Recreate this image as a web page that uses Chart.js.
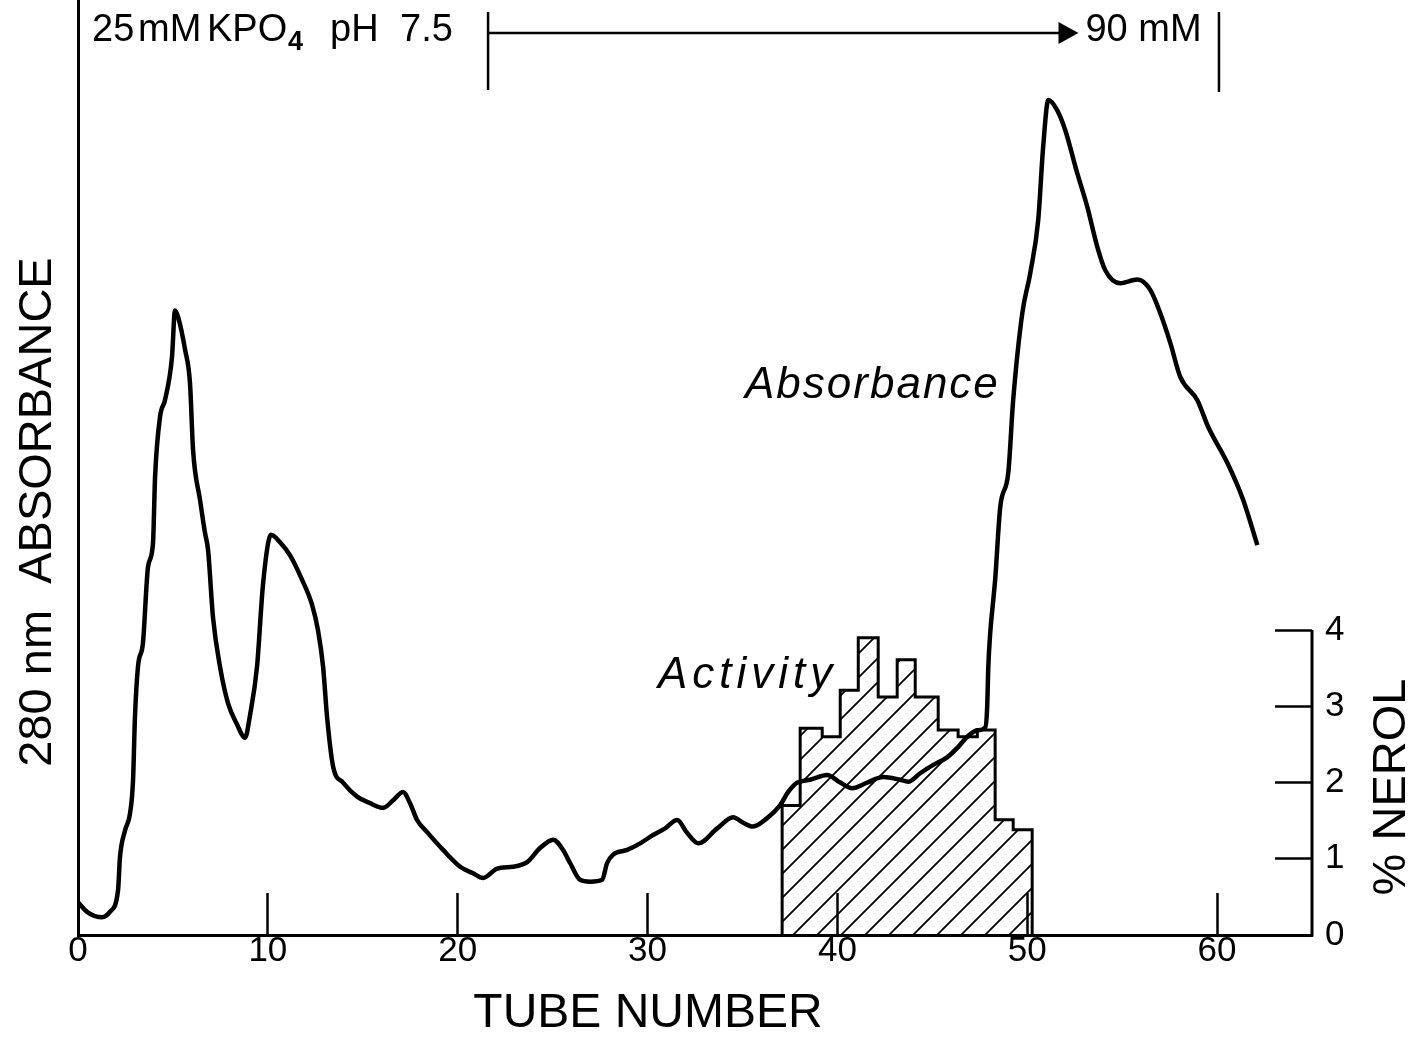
<!DOCTYPE html>
<html>
<head>
<meta charset="utf-8">
<title>280 nm absorbance and activity by tube</title>
<script src="https://cdn.jsdelivr.net/npm/chart.js@4"></script>
<style>
	html, body { margin: 0; padding: 0; background: #fff; }
	canvas { display: block; }
</style>
</head>
<body>
<canvas id="fChart" width="1416" height="1037"></canvas>
<script>
// absorbance trace (tube number, relative A280)
const absTube = [
	0, 0.53, 1.26, 1.69, 2.11, 2.21, 2.48, 2.74, 2.9, 3.0,
	3.16, 3.42, 3.69, 3.95, 4.06, 4.32, 4.58, 4.95, 5.11, 5.27,
	5.64, 5.9, 6.06, 6.43, 6.69, 6.85, 7.11, 7.48, 7.9, 8.38,
	8.8, 9.06, 9.43, 9.75, 10.17, 10.64, 11.17, 11.8, 12.33, 12.64,
	12.91, 13.12, 13.44, 13.96, 14.7, 15.38, 16.07, 16.6, 17.12, 17.49,
	17.86, 18.39, 19.23, 20.13, 20.81, 21.34, 22.08, 22.92, 23.66, 24.34,
	25.03, 25.55, 25.92, 26.45, 26.98, 27.61, 27.87, 28.19, 28.93, 29.61,
	30.29, 30.93, 31.56, 32.09, 32.67, 33.67, 34.51, 35.04, 35.56, 36.3,
	36.99, 37.41, 37.88, 38.57, 39.46, 40.15, 40.78, 41.57, 42.41, 43.31,
	43.73, 44.36, 45.05, 45.78, 46.36, 46.84, 47.37, 47.79, 47.89, 47.95,
	48.05, 48.21, 48.31, 48.58, 49.0, 49.26, 49.74, 50.16, 50.58, 50.84,
	51.11, 51.58, 52.0, 52.63, 53.16, 53.69, 54.11, 54.9, 55.8, 56.48,
	57.01, 57.54, 58.06, 58.96, 59.54, 60.54, 61.38, 62.12,
];
const absValue = [
	0.035, 0.024, 0.019, 0.025, 0.048, 0.083, 0.112, 0.13, 0.166, 0.233,
	0.287, 0.312, 0.394, 0.419, 0.49, 0.554, 0.572, 0.618, 0.668, 0.661,
	0.626, 0.59, 0.519, 0.465, 0.43, 0.412, 0.34, 0.287, 0.248, 0.225,
	0.211, 0.235, 0.287, 0.376, 0.428, 0.42, 0.406, 0.38, 0.353, 0.326,
	0.287, 0.233, 0.18, 0.163, 0.148, 0.141, 0.136, 0.144, 0.153, 0.141,
	0.123, 0.11, 0.091, 0.073, 0.066, 0.061, 0.071, 0.073, 0.078, 0.093,
	0.102, 0.091, 0.077, 0.059, 0.057, 0.059, 0.077, 0.086, 0.091, 0.098,
	0.107, 0.114, 0.123, 0.109, 0.098, 0.114, 0.126, 0.12, 0.116, 0.125,
	0.139, 0.153, 0.163, 0.166, 0.171, 0.163, 0.157, 0.163, 0.169, 0.166,
	0.164, 0.173, 0.182, 0.19, 0.201, 0.212, 0.219, 0.222, 0.244, 0.287,
	0.323, 0.358, 0.38, 0.458, 0.494, 0.572, 0.665, 0.708, 0.765, 0.843,
	0.893, 0.882, 0.861, 0.815, 0.779, 0.736, 0.711, 0.697, 0.701, 0.69,
	0.665, 0.633, 0.597, 0.572, 0.543, 0.505, 0.465, 0.417,
];

// activity histogram: tube edges and % nerol per fraction
const binEdges = [37.09, 38.04, 39.2, 40.15, 41.1, 42.15, 43.15, 44.1, 45.31, 46.36, 47.37, 48.31, 49.26, 50.26];
const nerolValue = [1.7, 2.71, 2.6, 3.21, 3.9, 3.12, 3.61, 3.12, 2.69, 2.6, 2.69, 1.51, 1.38];
const nerolTicks = [0, 1, 2, 3, 4];

// phosphate gradient bracket (tube numbers)
const gradientStart = 21.6;
const gradientArrow = 52.7;
const gradientEnd = 60.1;

const FONT = "'Liberation Sans', Arial, sans-serif";
Chart.defaults.font.family = FONT;
Chart.defaults.color = "#000";

const canvas = document.getElementById("fChart");
const ctx = canvas.getContext("2d");

// diagonal hatch for the activity bars
function makeHatch() {
	const c = document.createElement("canvas");
	c.width = 24;
	c.height = 24;
	const g = c.getContext("2d");
	g.strokeStyle = "#000";
	g.lineWidth = 1.8;
	g.beginPath();
	g.moveTo(-2, 26);
	g.lineTo(26, -2);
	g.moveTo(-2, 2);
	g.lineTo(2, -2);
	g.moveTo(22, 26);
	g.lineTo(26, 22);
	g.stroke();
	return ctx.createPattern(c, "repeat");
}

const absPoints = absTube.map((t, i) => ({ x: t, y: absValue[i] }));

const stepPoints = [{ x: binEdges[0], y: 0 }];
nerolValue.forEach((v, i) => stepPoints.push({ x: binEdges[i], y: v }));
stepPoints.push({ x: binEdges[binEdges.length - 1], y: nerolValue[nerolValue.length - 1] });
stepPoints.push({ x: binEdges[binEdges.length - 1], y: 0 });

const extras = {
	id: "extras",
	afterDraw(chart) {
		const c = chart.ctx;
		const xs = chart.scales.x;
		const yN = chart.scales.yN;
		const area = chart.chartArea;
		c.save();
		c.strokeStyle = "#000";
		c.fillStyle = "#000";

		// right axis only runs from 0 to 4
		c.lineWidth = 3;
		c.beginPath();
		c.moveTo(area.right, yN.getPixelForValue(0) + 1.5);
		c.lineTo(area.right, yN.getPixelForValue(nerolTicks[nerolTicks.length - 1]));
		c.stroke();

		// gradient bracket and arrow
		const x0 = xs.getPixelForValue(gradientStart);
		const x1 = xs.getPixelForValue(gradientArrow);
		const x2 = xs.getPixelForValue(gradientEnd);
		c.lineWidth = 2.5;
		c.beginPath();
		c.moveTo(x0, 12);
		c.lineTo(x0, 90);
		c.moveTo(x0, 33);
		c.lineTo(x1 - 16, 33);
		c.moveTo(x2, 12);
		c.lineTo(x2, 92);
		c.stroke();
		c.beginPath();
		c.moveTo(x1 - 20, 22);
		c.lineTo(x1, 33);
		c.lineTo(x1 - 20, 44);
		c.closePath();
		c.fill();

		c.textBaseline = "alphabetic";
		c.textAlign = "left";
		c.font = "38px " + FONT;
		c.fillText("25", 92, 41);
		c.fillText("mM", 138, 41);
		c.fillText("KPO", 207, 41);
		c.fillText("pH", 330, 41);
		c.fillText("7.5", 400, 41);
		c.fillText("90 mM", x1 + 7, 41);
		c.font = "bold 27px " + FONT;
		c.fillText("4", 288, 50);

		c.font = "italic 44px " + FONT;
		c.letterSpacing = "2px";
		c.fillText("Absorbance", 745, 398);
		c.letterSpacing = "5px";
		c.fillText("Activity", 658, 688);
		c.letterSpacing = "0px";

		// axis titles
		c.textAlign = "center";
		c.textBaseline = "middle";
		c.font = "48px " + FONT;
		c.fillText("TUBE NUMBER", 648, 1014);

		c.save();
		c.translate(38, 512);
		c.rotate(-Math.PI / 2);
		c.font = "47px " + FONT;
		c.fillText("280 nm  ABSORBANCE", 0, 0);
		c.restore();

		c.save();
		c.translate(1392, 787);
		c.rotate(-Math.PI / 2);
		c.font = "47px " + FONT;
		c.fillText("% NEROL", 0, 0);
		c.restore();

		c.restore();
	},
};

const myChart = new Chart(ctx, {
	type: "line",
	data: {
		datasets: [
			{
				label: "Absorbance",
				data: absPoints,
				xAxisID: "x",
				yAxisID: "yA",
				borderColor: "#000",
				borderWidth: 4.5,
				pointRadius: 0,
				cubicInterpolationMode: "monotone",
				fill: false,
			},
			{
				label: "Activity",
				data: stepPoints,
				xAxisID: "x",
				yAxisID: "yN",
				stepped: true,
				borderColor: "#000",
				borderWidth: 3,
				pointRadius: 0,
				backgroundColor: makeHatch(),
				fill: "origin",
			},
		],
	},
	options: {
		responsive: false,
		animation: false,
		layout: { padding: 0 },
		plugins: {
			legend: { display: false },
			tooltip: { enabled: false },
		},
		scales: {
			x: {
				type: "linear",
				position: "bottom",
				min: 0,
				max: 65,
				afterFit: (s) => {
					s.height = 102;
					s.paddingLeft = 0;
					s.paddingRight = 0;
				},
				ticks: {
					stepSize: 10,
					includeBounds: false,
					padding: 37,
					font: { size: 35 },
					color: "#000",
				},
				grid: {
					drawOnChartArea: false,
					tickLength: -42,
					tickWidth: 2.5,
					tickColor: "#000",
				},
				border: { display: true, color: "#000", width: 3 },
			},
			yA: {
				type: "linear",
				position: "left",
				min: 0,
				max: 1,
				afterFit: (s) => {
					s.width = 78;
					s.paddingTop = 0;
					s.paddingBottom = 0;
				},
				ticks: { display: false },
				grid: { display: false },
				border: { display: true, color: "#000", width: 3 },
			},
			yN: {
				type: "linear",
				position: "right",
				min: 0,
				max: 935 / 76.25,
				afterFit: (s) => {
					s.width = 104;
					s.paddingTop = 0;
					s.paddingBottom = 0;
				},
				afterBuildTicks: (s) => {
					s.ticks = nerolTicks.map((v) => ({ value: v }));
				},
				ticks: {
					stepSize: 1,
					padding: 50,
					font: { size: 35 },
					color: "#000",
				},
				grid: {
					drawOnChartArea: false,
					tickLength: -37,
					tickWidth: 2.5,
					tickColor: "#000",
				},
				border: { display: false },
			},
		},
	},
	plugins: [extras],
});
</script>
</body>
</html>
